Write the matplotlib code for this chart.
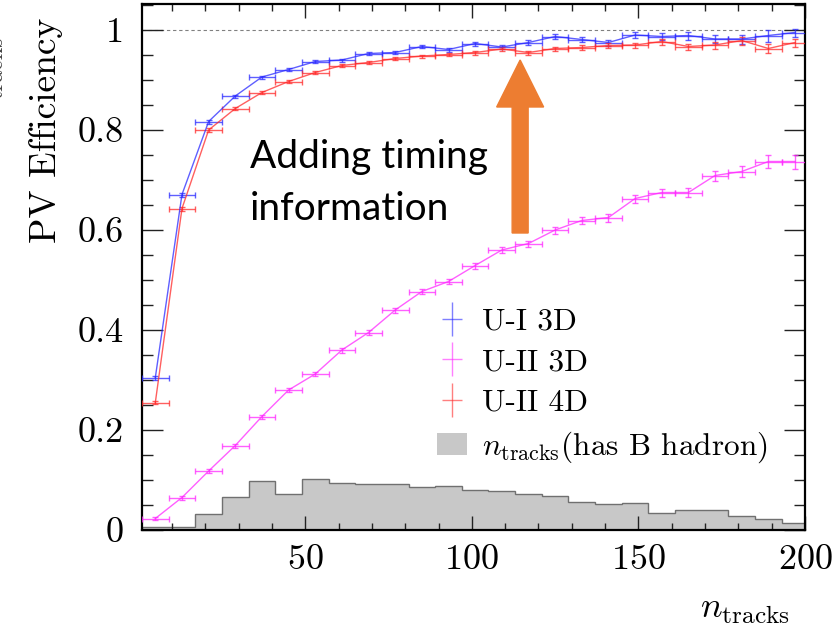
import matplotlib
matplotlib.use("Agg")
import matplotlib.pyplot as plt
from matplotlib.lines import Line2D
from matplotlib.patches import Patch, FancyArrow
from matplotlib.legend_handler import HandlerTuple
from matplotlib.ticker import MultipleLocator, FixedLocator, FixedFormatter
import numpy as np

plt.rcParams["font.family"] = "cmr10"
plt.rcParams["mathtext.fontset"] = "cm"
plt.rcParams["axes.formatter.use_mathtext"] = True

# bins in n_tracks (width 8)
edges = np.arange(1, 202, 8)
centers = 0.5 * (edges[:-1] + edges[1:])
half_w = 0.5 * np.diff(edges)

eff_ui_3d = [0.305, 0.671, 0.817, 0.868, 0.906, 0.921, 0.937, 0.940, 0.953, 0.955,
             0.967, 0.961, 0.973, 0.966, 0.975, 0.987, 0.981, 0.975, 0.990, 0.987,
             0.989, 0.982, 0.982, 0.989, 0.995]
err_ui_3d = [0.004, 0.004, 0.004, 0.003, 0.003, 0.003, 0.003, 0.003, 0.003, 0.003,
             0.003, 0.004, 0.004, 0.004, 0.005, 0.005, 0.005, 0.006, 0.006, 0.007,
             0.008, 0.008, 0.009, 0.012, 0.008]

eff_uii_3d = [0.023, 0.065, 0.118, 0.169, 0.227, 0.280, 0.312, 0.360, 0.395, 0.440,
              0.477, 0.497, 0.529, 0.560, 0.573, 0.600, 0.619, 0.625, 0.663, 0.675,
              0.675, 0.709, 0.717, 0.737, 0.737]
err_uii_3d = [0.003, 0.004, 0.004, 0.004, 0.004, 0.004, 0.004, 0.005, 0.005, 0.005,
              0.005, 0.005, 0.006, 0.006, 0.006, 0.007, 0.007, 0.008, 0.008, 0.008,
              0.009, 0.010, 0.011, 0.013, 0.014]

eff_uii_4d = [0.255, 0.643, 0.800, 0.843, 0.875, 0.897, 0.915, 0.929, 0.935, 0.943,
              0.948, 0.951, 0.955, 0.962, 0.955, 0.963, 0.965, 0.969, 0.970, 0.977,
              0.967, 0.970, 0.979, 0.963, 0.975]
err_uii_4d = [0.003, 0.004, 0.004, 0.003, 0.003, 0.003, 0.003, 0.003, 0.003, 0.003,
              0.003, 0.003, 0.004, 0.004, 0.004, 0.004, 0.005, 0.005, 0.005, 0.006,
              0.006, 0.007, 0.008, 0.009, 0.008]

# normalised n_tracks distribution for events with a B hadron
ntracks_b = [0.007, 0.007, 0.033, 0.066, 0.099, 0.073, 0.102, 0.095, 0.093, 0.092,
             0.087, 0.088, 0.080, 0.079, 0.073, 0.069, 0.057, 0.052, 0.055, 0.035,
             0.041, 0.041, 0.029, 0.023, 0.015]

labels = ["U-I 3D", "U-II 3D", "U-II 4D", r"$n_{\rm tracks}$(has B hadron)"]
colors = ["#2a2aff", "#ff2aff", "#ff2a2a"]

fig = plt.figure(figsize=(8.37, 6.26), dpi=100)
ax = fig.add_axes([142 / 837, 1 - 530 / 626, 663 / 837, 526 / 626])

ax.stairs(ntracks_b, edges, fill=True, color="#c8c8c8", zorder=1)
ax.stairs(ntracks_b, edges, color="#707070", lw=1.0, zorder=1.5)

ax.axhline(1.0, color="#808080", lw=0.8, ls=(0, (3, 2.5)), zorder=1)

for vals, errs, c in zip([eff_ui_3d, eff_uii_3d, eff_uii_4d],
                         [err_ui_3d, err_uii_3d, err_uii_4d], colors):
    ax.errorbar(centers, vals, yerr=errs, xerr=half_w, color=c, lw=1.0,
                elinewidth=1.0, capsize=2.5, capthick=1.0, alpha=0.75, zorder=3)

ax.set_xlim(1, 200)
ax.set_ylim(0, 1.052)

ax.xaxis.set_major_locator(FixedLocator([50, 100, 150, 200]))
ax.xaxis.set_minor_locator(MultipleLocator(10))
ax.yaxis.set_major_locator(FixedLocator([0, 0.2, 0.4, 0.6, 0.8, 1.0]))
ax.yaxis.set_major_formatter(FixedFormatter(["0", "0.2", "0.4", "0.6", "0.8", "1"]))
ax.yaxis.set_minor_locator(MultipleLocator(0.05))

ax.tick_params(axis="both", which="both", direction="in", top=True, right=True,
               labelsize=26, colors="#222222", labelcolor="black")
ax.tick_params(axis="x", which="major", length=10, width=1.0, pad=10)
ax.tick_params(axis="x", which="minor", length=5, width=1.0)
ax.tick_params(axis="y", which="major", length=15, width=1.0, pad=13)
ax.tick_params(axis="y", which="minor", length=8, width=1.0)
for sp in ax.spines.values():
    sp.set_linewidth(1.6)

fig.text(46.5 / 837, 1 - 18 / 626, "PV Efficiency", rotation=90, ha="center",
         va="top", fontsize=27)
fig.text(790 / 837, 1 - 618 / 626, r"$n_{\rm tracks}$", ha="right",
         va="baseline", fontsize=26)
# fragment of a neighbouring label, cut by the image edge
fig.text(8 / 837, 1 - 68 / 626, "tracks", rotation=90, ha="right", va="center",
         fontsize=17, color="#444444")

# annotation
ax.text(33.3, 0.724, "Adding timing", family="Lato", fontsize=28,
        ha="left", va="baseline", color="black")
ax.text(33.3, 0.620, "information", family="Lato", fontsize=28,
        ha="left", va="baseline", color="black")
ax.add_patch(FancyArrow(114.5, 0.594, 0, 0.346, width=4.8, head_width=14.1,
                        head_length=0.094, length_includes_head=True,
                        color="#ed7d31", zorder=4))

handles = []
for c in colors:
    handles.append((Line2D([], [], color=c, marker="|", ms=24, mew=1.0, ls="none", alpha=0.6),
                    Line2D([], [], color=c, marker="_", ms=15, mew=1.0, ls="none", alpha=0.6)))
handles.append(Patch(facecolor="#c8c8c8", edgecolor="none"))
ax.legend(handles, labels, handler_map={tuple: HandlerTuple(ndivide=1, pad=0)},
          loc="upper left", bbox_to_anchor=((437 - 142) / 663, (530 - 308) / 526),
          frameon=False, fontsize=22.5, handlelength=0.96, handletextpad=0.47,
          labelspacing=0.4, borderpad=0, borderaxespad=0)

fig.savefig("out.png", dpi=100)
